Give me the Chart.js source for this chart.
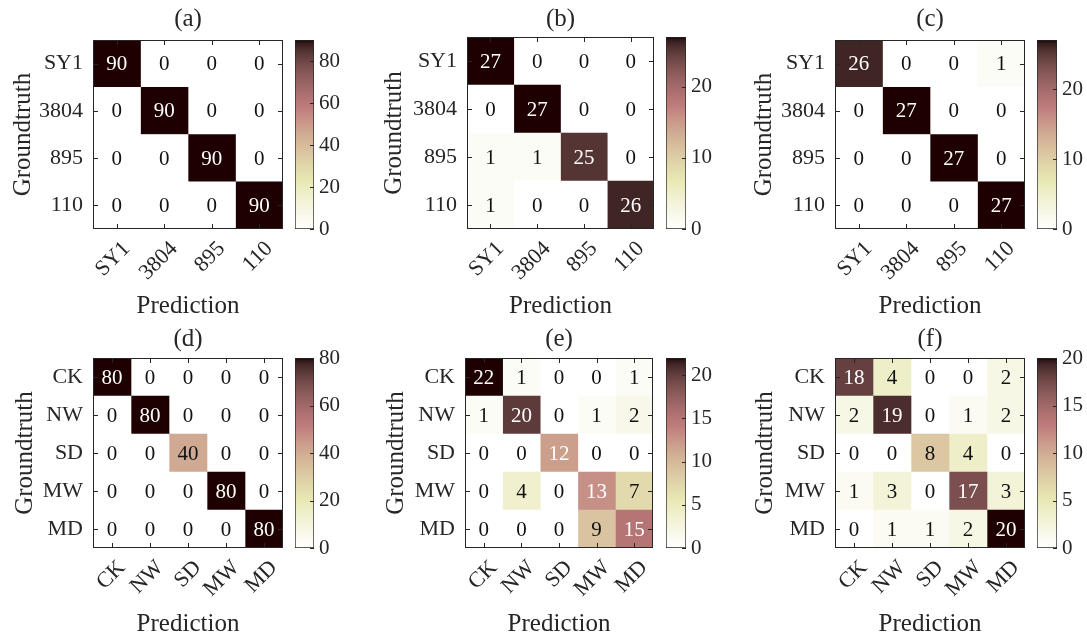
<!DOCTYPE html>
<html>
<head>
<meta charset="utf-8">
<script src="https://cdn.jsdelivr.net/npm/chart.js@4/dist/chart.umd.min.js"></script>
<style>
    html, body { margin: 0; padding: 0; background: #fff; overflow: hidden; }
    #fig { position: relative; width: 1087px; height: 636px; }
    #fig canvas { position: absolute; }
</style>
</head>
<body>
<div id="fig"></div>
<script>
// class names
const soilClasses = ["SY1", "3804", "895", "110"];
const stressClasses = ["CK", "NW", "SD", "MW", "MD"];

// confusion matrices (rows = groundtruth, cols = prediction)
const cmA = [[90, 0, 0, 0], [0, 90, 0, 0], [0, 0, 90, 0], [0, 0, 0, 90]];
const cmB = [[27, 0, 0, 0], [0, 27, 0, 0], [1, 1, 25, 0], [1, 0, 0, 26]];
const cmC = [[26, 0, 0, 1], [0, 27, 0, 0], [0, 0, 27, 0], [0, 0, 0, 27]];
const cmD = [[80, 0, 0, 0, 0], [0, 80, 0, 0, 0], [0, 0, 40, 0, 0], [0, 0, 0, 80, 0], [0, 0, 0, 0, 80]];
const cmE = [[22, 1, 0, 0, 1], [1, 20, 0, 1, 2], [0, 0, 12, 0, 0], [0, 4, 0, 13, 7], [0, 0, 0, 9, 15]];
const cmF = [[18, 4, 0, 0, 2], [2, 19, 0, 1, 2], [0, 0, 8, 4, 0], [1, 3, 0, 17, 3], [0, 1, 1, 2, 20]];

// colorbar limits and tick steps
const colorMax = [90, 27, 27, 80, 22, 20];
const colorStep = [20, 10, 10, 20, 5, 5];

const panelTitles = ["(a)", "(b)", "(c)", "(d)", "(e)", "(f)"];
const xTitle = "Prediction";
const yTitle = "Groundtruth";

const matrices = [cmA, cmB, cmC, cmD, cmE, cmF];
const classSets = [soilClasses, soilClasses, soilClasses, stressClasses, stressClasses, stressClasses];

// pixel placement of each panel: plot box [l, t, r, b], colorbar [l, r]
const placement = [
    { plot: [93, 40, 283, 229], cb: [295, 314], gtX: 23, predY: 306, titleY: 19, top: 0 },
    { plot: [467, 37, 654, 229], cb: [666, 686], gtX: 394, predY: 306, titleY: 19, top: 0 },
    { plot: [835, 40, 1025, 229], cb: [1037, 1057], gtX: 764, predY: 306, titleY: 19, top: 0 },
    { plot: [93, 358, 283, 548], cb: [295, 314], gtX: 25, predY: 624, titleY: 339, top: 320 },
    { plot: [465, 358, 653, 548], cb: [666, 686], gtX: 396, predY: 624, titleY: 339, top: 320 },
    { plot: [835, 358, 1025, 548], cb: [1037, 1057], gtX: 765, predY: 624, titleY: 339, top: 320 },
];

const FONT = "'Liberation Serif', 'Times New Roman', serif";
const AXIS_COLOR = "#262626";
Chart.defaults.font.family = FONT;
Chart.defaults.color = AXIS_COLOR;

// flipped MATLAB pink colormap (64 entries, index 0 = white)
function buildPink(m) {
    const n = Math.floor(3 / 8 * m);
    const out = [];
    for (let k = 0; k < m; k++) {
        const r = k < n ? (k + 1) / n : 1;
        const g = k < n ? 0 : (k < 2 * n ? (k - n + 1) / n : 1);
        const b = k < 2 * n ? 0 : (k - 2 * n + 1) / (m - 2 * n);
        const gray = k / (m - 1);
        out.push([r, g, b].map(h => Math.round(255 * Math.sqrt((2 * gray + h) / 3))));
    }
    return out.reverse();
}
const cmap = buildPink(64);
const rgb = c => `rgb(${c[0]},${c[1]},${c[2]})`;

function cellColor(v, max) {
    const idx = Math.min(cmap.length - 1, Math.floor(v / max * cmap.length));
    return rgb(cmap[idx]);
}

const fig = document.getElementById("fig");

function addCanvas(left, top, width, height) {
    const c = document.createElement("canvas");
    c.width = width;
    c.height = height;
    c.style.left = left + "px";
    c.style.top = top + "px";
    c.style.width = width + "px";
    c.style.height = height + "px";
    fig.appendChild(c);
    return c;
}

function matrixDecor(cm, max) {
    return {
        id: "matrixDecor",
        afterDatasetsDraw(chart) {
            const { ctx, chartArea: a, scales: { x, y } } = chart;
            ctx.save();
            ctx.font = "21px " + FONT;
            ctx.textAlign = "center";
            ctx.textBaseline = "middle";
            cm.forEach((row, i) => row.forEach((v, j) => {
                ctx.fillStyle = v / max > 0.5 ? "#ffffff" : "#111111";
                ctx.fillText(String(v), x.getPixelForValue(j), y.getPixelForValue(i) + 1);
            }));
            ctx.strokeStyle = AXIS_COLOR;
            ctx.lineWidth = 1;
            ctx.strokeRect(a.left + 0.5, a.top + 0.5, a.width - 1, a.height - 1);
            ctx.beginPath();
            x.ticks.forEach(t => {
                const px = Math.round(x.getPixelForValue(t.value)) + 0.5;
                ctx.moveTo(px, a.bottom); ctx.lineTo(px, a.bottom - 5);
                ctx.moveTo(px, a.top); ctx.lineTo(px, a.top + 5);
            });
            cm.forEach((row, i) => {
                const py = Math.round(y.getPixelForValue(i)) + 0.5;
                ctx.moveTo(a.left, py); ctx.lineTo(a.left + 5, py);
                ctx.moveTo(a.right, py); ctx.lineTo(a.right - 5, py);
            });
            ctx.stroke();
            ctx.restore();
        },
    };
}

const colorbarTicks = {
    id: "colorbarTicks",
    afterDatasetsDraw(chart) {
        const { ctx, chartArea: a, scales: { y } } = chart;
        ctx.save();
        ctx.strokeStyle = AXIS_COLOR;
        ctx.lineWidth = 1;
        ctx.beginPath();
        y.ticks.forEach(t => {
            const py = Math.round(y.getPixelForValue(t.value)) + 0.5;
            ctx.moveTo(a.right, py); ctx.lineTo(a.right - 4, py);
        });
        ctx.stroke();
        ctx.restore();
    },
};

function barGradient(chart) {
    const a = chart.chartArea;
    if (!a) return rgb(cmap[32]);
    const g = chart.ctx.createLinearGradient(0, a.bottom, 0, a.top);
    cmap.forEach((c, k) => g.addColorStop(k / (cmap.length - 1), rgb(c)));
    return g;
}

matrices.forEach((cm, p) => {
    const pos = placement[p];
    const classes = classSets[p];
    const max = colorMax[p];
    const step = colorStep[p];
    const [pl, pt, pr, pb] = pos.plot;

    // confusion matrix
    const left = pos.gtX - 15;
    const bottom = pos.predY + 15;
    const width = pr + 3 - left;
    const height = bottom - pos.top;
    const titlePadTop = pos.titleY - 12.5 - pos.top;
    const titlePadBottom = pt - pos.top - 25 - titlePadTop;
    const canvas = addCanvas(left, pos.top, width, height);

    new Chart(canvas, {
        type: "bar",
        data: {
            labels: classes,
            datasets: classes.map((c, j) => ({
                label: c,
                data: classes.map(() => [j - 0.5, j + 0.5]),
                backgroundColor: classes.map((r, i) => cellColor(cm[i][j], max)),
                borderWidth: 0,
                grouped: false,
                barPercentage: 1,
                categoryPercentage: 1,
            })),
        },
        options: {
            indexAxis: "y",
            responsive: false,
            animation: false,
            layout: { padding: { left: 0, right: 3, top: 0, bottom: 0 } },
            plugins: {
                legend: { display: false },
                tooltip: { enabled: false },
                title: {
                    display: true,
                    text: panelTitles[p],
                    fullSize: false,
                    color: AXIS_COLOR,
                    font: { size: 25, weight: "normal", lineHeight: 1 },
                    padding: { top: titlePadTop, bottom: titlePadBottom },
                },
            },
            scales: {
                x: {
                    type: "linear",
                    min: -0.5,
                    max: classes.length - 0.5,
                    afterBuildTicks: s => { s.ticks = classes.map((c, i) => ({ value: i })); },
                    afterFit: s => { s.height = bottom - pb; s.paddingLeft = 0; s.paddingRight = 0; },
                    ticks: {
                        autoSkip: false,
                        minRotation: 45,
                        maxRotation: 45,
                        padding: 7,
                        labelOffset: 10,
                        color: AXIS_COLOR,
                        font: { size: 22 },
                        callback: v => classes[v],
                    },
                    grid: { display: false, drawTicks: false },
                    border: { display: false },
                    title: { display: true, text: xTitle, color: AXIS_COLOR, font: { size: 25 }, padding: 0 },
                },
                y: {
                    type: "category",
                    offset: true,
                    afterFit: s => { s.width = pl - left; s.paddingTop = 0; s.paddingBottom = 0; },
                    ticks: { padding: 10, color: AXIS_COLOR, font: { size: 22 } },
                    grid: { display: false, drawTicks: false },
                    border: { display: false },
                    title: { display: true, text: yTitle, color: AXIS_COLOR, font: { size: 25 }, padding: 0 },
                },
            },
        },
        plugins: [matrixDecor(cm, max)],
    });

    // colorbar
    const [cl, cr] = pos.cb;
    const cbCanvas = addCanvas(cl, pt - 15, cr - cl + 45, pb - pt + 30);
    new Chart(cbCanvas, {
        type: "bar",
        data: {
            labels: [""],
            datasets: [{
                data: [[0, max]],
                backgroundColor: ctx => barGradient(ctx.chart),
                borderColor: AXIS_COLOR,
                borderWidth: 1,
                borderSkipped: false,
                barPercentage: 1,
                categoryPercentage: 1,
            }],
        },
        options: {
            responsive: false,
            animation: false,
            layout: { padding: { left: 0, right: 0, top: 15, bottom: 15 } },
            plugins: { legend: { display: false }, tooltip: { enabled: false } },
            scales: {
                x: { display: false },
                y: {
                    position: "right",
                    min: 0,
                    max: max,
                    afterBuildTicks: s => {
                        const ticks = [];
                        for (let v = 0; v <= max; v += step) ticks.push({ value: v });
                        s.ticks = ticks;
                    },
                    afterFit: s => { s.width = 45; s.paddingTop = 0; s.paddingBottom = 0; },
                    ticks: { stepSize: step, padding: 5, color: AXIS_COLOR, font: { size: 21 } },
                    grid: { display: false, drawTicks: false },
                    border: { display: false },
                },
            },
        },
        plugins: [colorbarTicks],
    });
});
</script>
</body>
</html>
